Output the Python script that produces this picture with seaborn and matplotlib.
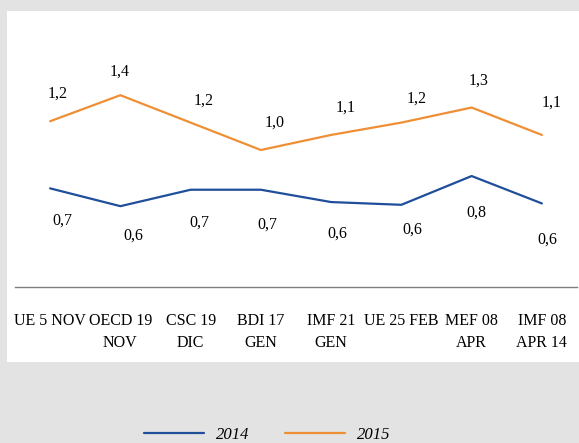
import matplotlib
matplotlib.use("Agg")
import matplotlib.pyplot as plt
import seaborn as sns
import pandas as pd
from matplotlib.patches import Rectangle

# forecasts by institution / date
categories = ["UE 5 NOV", "OECD 19\nNOV", "CSC 19\nDIC", "BDI 17\nGEN", "IMF 21\nGEN",
              "UE 25 FEB", "MEF 08\nAPR", "IMF 08\nAPR 14"]
values_2014 = [0.72, 0.59, 0.71, 0.71, 0.62, 0.60, 0.81, 0.61]
values_2015 = [1.21, 1.40, 1.20, 1.00, 1.11, 1.20, 1.31, 1.11]
labels_2014 = ["0,7", "0,6", "0,7", "0,7", "0,6", "0,6", "0,8", "0,6"]
labels_2015 = ["1,2", "1,4", "1,2", "1,0", "1,1", "1,2", "1,3", "1,1"]
years = ["2014", "2015"]
colors = {"2014": "#1F4E9B", "2015": "#EF8F35"}

# label offsets in pixels (hand placed like the original)
off_2014 = [(12, -32), (13, -29), (9, -33), (7, -35), (6, -32), (11, -25), (5, -37), (5, -36)]
off_2015 = [(8, 28), (-1, 24), (13, 22), (14, 27), (15, 27), (15, 24), (7, 27), (10, 32)]

df = pd.DataFrame({
    "cat": categories * 2,
    "val": values_2014 + values_2015,
    "year": ["2014"] * 8 + ["2015"] * 8,
})

sns.set_style("white")
plt.rcParams["font.family"] = ["Liberation Serif", "DejaVu Serif"]
plt.rcParams["text.color"] = "black"

fig = plt.figure(figsize=(5.79, 4.43), dpi=100)
fig.patch.set_facecolor("#E3E3E3")
fig.patches.append(Rectangle((7 / 579, 1 - 362 / 443), 572 / 579, 351 / 443,
                             transform=fig.transFigure, facecolor="white",
                             edgecolor="none", zorder=-5))

ax = fig.add_axes([15 / 579, 1 - 287 / 443, 562 / 579, 219.2 / 443])
ax.set_facecolor("none")
ax.set_zorder(1)
sns.lineplot(data=df, x="cat", y="val", hue="year", palette=colors, sort=False,
             linewidth=1.6, legend=False, ax=ax)

ax.set_xlim(-0.5, 7.5)
ax.set_ylim(0, 1.6)
ax.set_xlabel("")
ax.set_ylabel("")
ax.set_yticks([])
for s in ["top", "left", "right"]:
    ax.spines[s].set_visible(False)
ax.spines["bottom"].set_color("#7F7F7F")
ax.spines["bottom"].set_linewidth(1.0)
ax.tick_params(axis="x", length=0, pad=19, labelcolor="black")
for t in ax.get_xticklabels():
    t.set_fontsize(11.5)
    t.set_linespacing(1.45)

for i in range(len(categories)):
    ax.annotate(labels_2015[i], (i, values_2015[i]), xytext=off_2015[i],
                textcoords="offset pixels", ha="center", va="center", fontsize=11.5)
    ax.annotate(labels_2014[i], (i, values_2014[i]), xytext=off_2014[i],
                textcoords="offset pixels", ha="center", va="center", fontsize=11.5)

handles = [plt.Line2D([], [], color=colors[y], linewidth=1.6) for y in years]
leg = fig.legend(handles, years, loc="center", bbox_to_anchor=(267 / 579, 1 - 435 / 443),
                 ncol=2, frameon=False, handlelength=3.6, handletextpad=0.75,
                 columnspacing=2.1, prop={"size": 12, "style": "italic"})

fig.savefig("out.png", dpi=100, facecolor=fig.get_facecolor())
